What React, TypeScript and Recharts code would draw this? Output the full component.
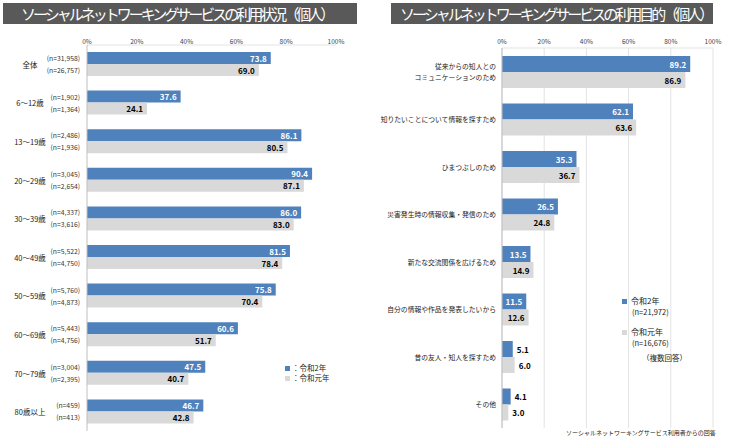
import { BarChart, Bar, XAxis, YAxis, CartesianGrid, LabelList } from 'recharts';

const ageGroups = ['全体', '6～12歳', '13～19歳', '20～29歳', '30～39歳', '40～49歳', '50～59歳', '60～69歳', '70～79歳', '80歳以上'];
const usageR2 = [73.8, 37.6, 86.1, 90.4, 86.0, 81.5, 75.8, 60.6, 47.5, 46.7];
const usageR1 = [69.0, 24.1, 80.5, 87.1, 83.0, 78.4, 70.4, 51.7, 40.7, 42.8];
const nR2 = ['31,958', '1,902', '2,486', '3,045', '4,337', '5,522', '5,760', '5,443', '3,004', '459'];
const nR1 = ['26,757', '1,364', '1,936', '2,654', '3,616', '4,750', '4,873', '4,756', '2,395', '413'];

const purposes = [
  '従来からの知人との\nコミュニケーションのため',
  '知りたいことについて情報を探すため',
  'ひまつぶしのため',
  '災害発生時の情報収集・発信のため',
  '新たな交流関係を広げるため',
  '自分の情報や作品を発表したいから',
  '昔の友人・知人を探すため',
  'その他',
];
const purposeR2 = [89.2, 62.1, 35.3, 26.5, 13.5, 11.5, 5.1, 4.1];
const purposeR1 = [86.9, 63.6, 36.7, 24.8, 14.9, 12.6, 6.0, 3.0];

const pctTicks = [0, 20, 40, 60, 80, 100];

const BLUE = '#4F81BD';
const GRAY = '#D9D9D9';
const FONT = "'Noto Sans CJK JP', 'Noto Sans', sans-serif";

const usageData = ageGroups.map((name, i) => ({ name, r2: usageR2[i], r1: usageR1[i], n2: `(n=${nR2[i]})`, n1: `(n=${nR1[i]})` }));
const purposeData = purposes.map((name, i) => ({ name, r2: purposeR2[i], r1: purposeR1[i] }));

function box(p: any) {
  const vb = p.viewBox && p.viewBox.width !== undefined ? p.viewBox : p;
  return { x: Number(vb.x), y: Number(vb.y), width: Number(vb.width), height: Number(vb.height) };
}

const valueLabel = (color: string, outsideBelow = 0) => (p: any) => {
  const { x, y, width, height } = box(p);
  const v = Number(p.value);
  const outside = v < outsideBelow;
  return (
    <text
      x={outside ? x + width + 4 : x + width - 4}
      y={y + height / 2}
      textAnchor={outside ? 'start' : 'end'}
      dominantBaseline="central"
      fill={outside ? '#000' : color}
      fontSize={8}
      fontWeight="bold"
      fontFamily={FONT}
    >
      {v.toFixed(1)}
    </text>
  );
};

const nLabel = (p: any) => {
  const { x, y, height } = box(p);
  return (
    <text x={x - 7} y={y + height / 2} textAnchor="end" dominantBaseline="central" fill="#333" fontSize={6.8} fontFamily={FONT}>
      {p.value}
    </text>
  );
};

const AgeTick = (p: any) => (
  <text x={p.x - 57} y={p.y} textAnchor="middle" dominantBaseline="central" fill="#222" fontSize={7.5} fontFamily={FONT}>
    {p.payload.value}
  </text>
);

const PurposeTick = (p: any) => {
  const lines = String(p.payload.value).split('\n');
  const lh = 11;
  return (
    <text x={p.x} y={p.y} textAnchor="end" fill="#222" fontSize={6.8} fontFamily={FONT}>
      {lines.map((l, i) => (
        <tspan key={i} x={p.x} y={p.y + (i - (lines.length - 1) / 2) * lh} dominantBaseline="central">
          {l}
        </tspan>
      ))}
    </text>
  );
};

const header = (left: number, width: number, pad: number, text: string) => (
  <div
    style={{
      position: 'absolute', left, top: 3, width, height: 21, background: '#595959', color: '#fff',
      fontSize: 15, letterSpacing: -3, lineHeight: '21px', paddingLeft: pad, boxSizing: 'border-box', whiteSpace: 'nowrap', overflow: 'hidden',
    }}
  >
    {text}
  </div>
);

const swatch = (color: string, size: number) => (
  <span style={{ display: 'inline-block', width: size, height: size, background: color, marginRight: 2, verticalAlign: 'middle' }} />
);

export default function App() {
  return (
    <div style={{ position: 'absolute', left: 0, top: 0, width: 735, height: 442, background: '#fff', fontFamily: FONT, overflow: 'hidden' }}>
      {header(3, 354, 18, 'ソーシャルネットワーキングサービスの利用状況（個人）')}
      {header(391, 322, 9, 'ソーシャルネットワーキングサービスの利用目的（個人）')}

      <div style={{ position: 'absolute', left: 0, top: 0 }}>
        <BarChart layout="vertical" width={360} height={442} data={usageData} margin={{ top: 0, right: 24, left: 0, bottom: 11 }} barGap={0} barSize={12}>
          <XAxis
            type="number"
            orientation="top"
            domain={[0, 100]}
            ticks={pctTicks}
            tickFormatter={(v: number) => `${v}%`}
            height={45}
            tickSize={0}
            tickMargin={1}
            tickLine={false}
            axisLine={{ stroke: '#E3E3E3' }}
            tick={{ fontSize: 6.5, fill: '#444', fontFamily: FONT }}
          />
          <YAxis type="category" dataKey="name" width={87} tickSize={0} tickMargin={0} tickLine={false} axisLine={{ stroke: '#BFBFBF' }} tick={<AgeTick />} interval={0} />
          <Bar dataKey="r2" fill={BLUE} isAnimationActive={false}>
            <LabelList dataKey="r2" content={valueLabel('#fff')} />
            <LabelList dataKey="n2" content={nLabel} />
          </Bar>
          <Bar dataKey="r1" fill={GRAY} isAnimationActive={false}>
            <LabelList dataKey="r1" content={valueLabel('#000')} />
            <LabelList dataKey="n1" content={nLabel} />
          </Bar>
        </BarChart>
      </div>

      <div style={{ position: 'absolute', left: 370, top: 0 }}>
        <BarChart layout="vertical" width={365} height={442} data={purposeData} margin={{ top: 0, right: 22, left: 0, bottom: 14 }} barGap={0} barSize={16}>
          <CartesianGrid horizontal={false} stroke="#E3E3E3" />
          <XAxis
            type="number"
            orientation="top"
            domain={[0, 100]}
            ticks={pctTicks}
            tickFormatter={(v: number) => `${v}%`}
            height={48}
            tickSize={0}
            tickMargin={4}
            tickLine={false}
            axisLine={{ stroke: '#E3E3E3' }}
            tick={{ fontSize: 6.5, fill: '#444', fontFamily: FONT }}
          />
          <YAxis type="category" dataKey="name" width={132} tickSize={0} tickMargin={6} tickLine={false} axisLine={{ stroke: '#BFBFBF' }} tick={<PurposeTick />} interval={0} />
          <Bar dataKey="r2" fill={BLUE} isAnimationActive={false}>
            <LabelList dataKey="r2" content={valueLabel('#fff', 10)} />
          </Bar>
          <Bar dataKey="r1" fill={GRAY} isAnimationActive={false}>
            <LabelList dataKey="r1" content={valueLabel('#000', 10)} />
          </Bar>
        </BarChart>
      </div>

      {/* left legend */}
      <div style={{ position: 'absolute', left: 285, top: 363, fontSize: 7.5, lineHeight: '10px', color: '#222' }}>
        <div>{swatch(BLUE, 5)}：令和2年</div>
        <div>{swatch(GRAY, 5)}：令和元年</div>
      </div>

      {/* right legend */}
      <div style={{ position: 'absolute', left: 622, top: 295, fontSize: 8, lineHeight: '11px', color: '#222' }}>
        <div>{swatch(BLUE, 5)}<span style={{ marginLeft: 2 }}>令和2年</span></div>
        <div style={{ paddingLeft: 10, fontSize: 7.5 }}>(n=21,972)</div>
        <div style={{ marginTop: 9 }}>{swatch(GRAY, 5)}<span style={{ marginLeft: 2 }}>令和元年</span></div>
        <div style={{ paddingLeft: 10, fontSize: 7.5 }}>(n=16,676)</div>
        <div style={{ paddingLeft: 20, fontSize: 7.5, marginTop: 4 }}>（複数回答）</div>
      </div>

      <div style={{ position: 'absolute', left: 566, top: 428, fontSize: 6, color: '#222', whiteSpace: 'nowrap' }}>
        ソーシャルネットワーキングサービス利用者からの回答
      </div>
    </div>
  );
}
